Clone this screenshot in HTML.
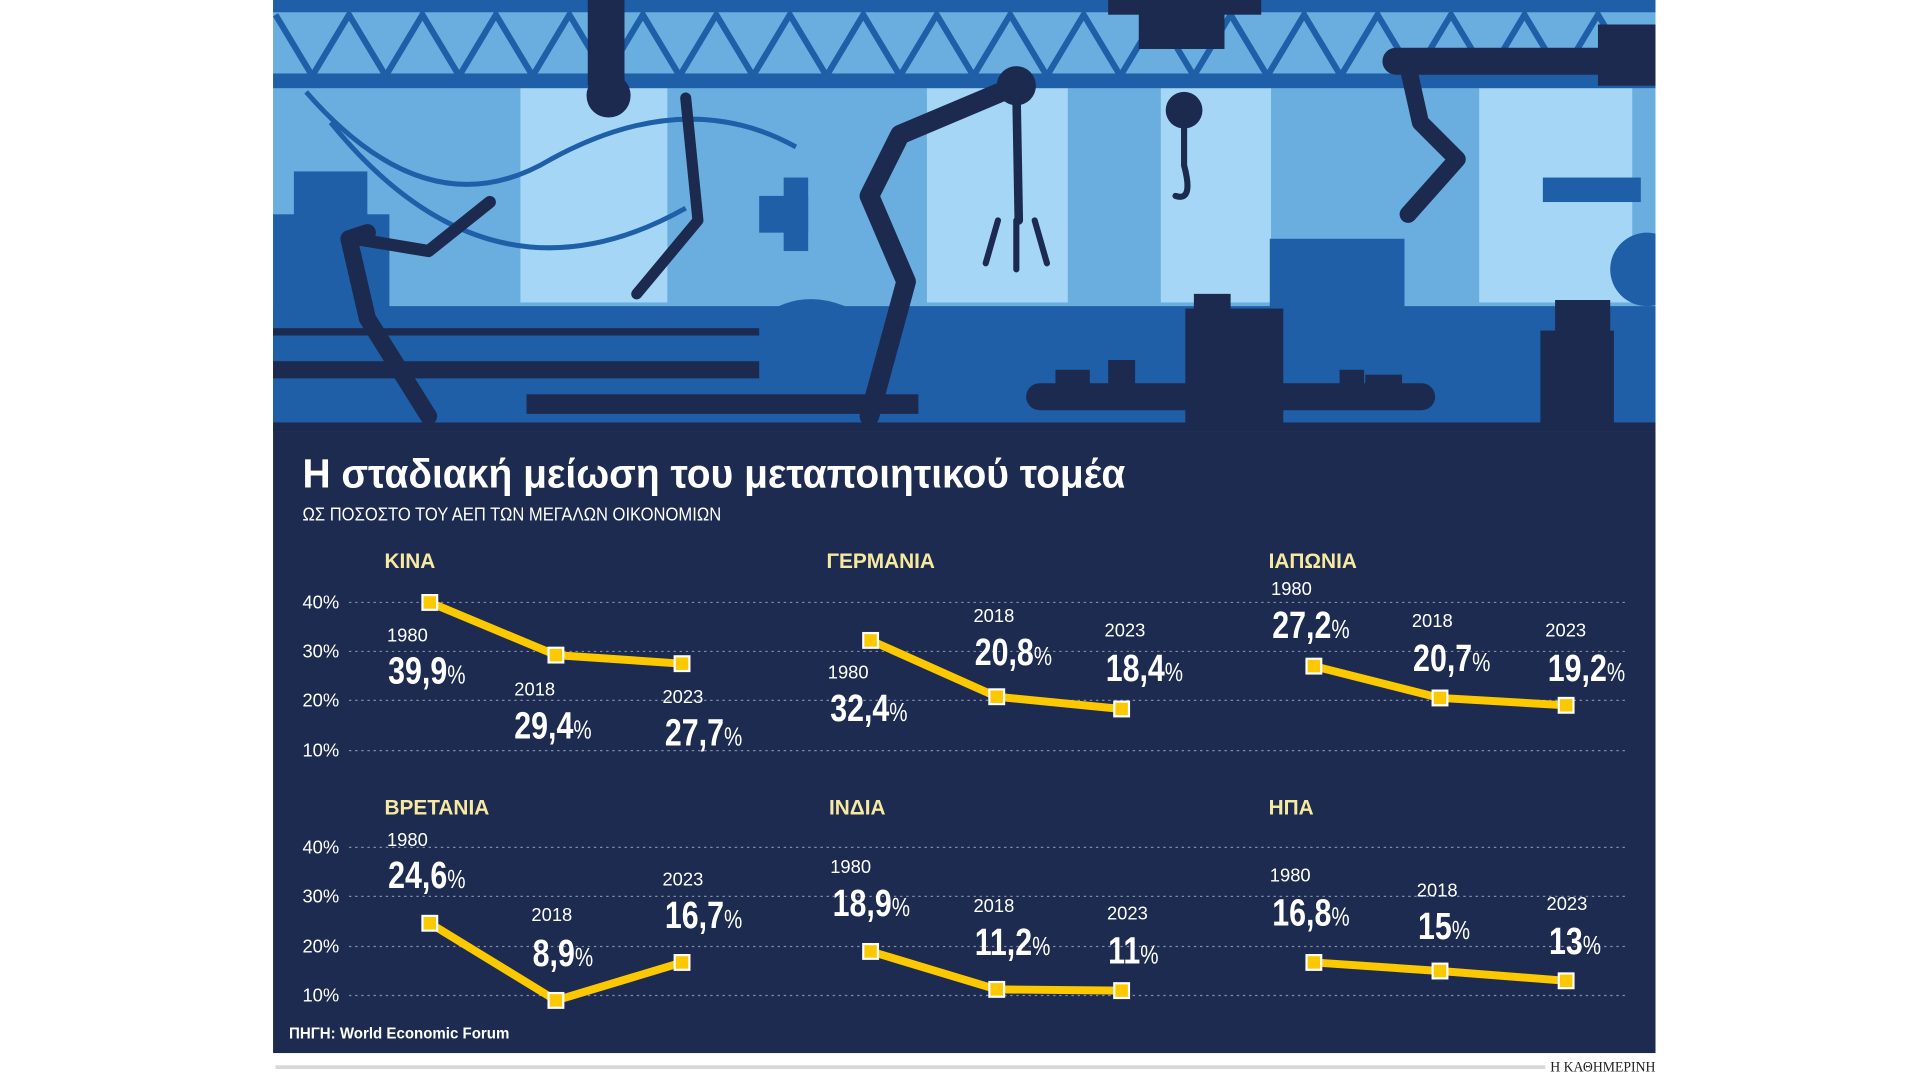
<!DOCTYPE html>
<html><head><meta charset="utf-8"><style>
html,body{margin:0;padding:0;background:#fff;width:1920px;height:1080px;overflow:hidden}
svg{display:block}
.t{font-family:"Liberation Sans Narrow","Liberation Sans",sans-serif}
</style></head><body>
<svg width="1920" height="1080" viewBox="0 0 1568 882" preserveAspectRatio="none" xmlns="http://www.w3.org/2000/svg">
<defs><clipPath id="ill"><rect x="223" y="0" width="1129" height="352"/></clipPath></defs>
<g clip-path="url(#ill)">
<rect x="223" y="0" width="1129" height="352" fill="#6aaee0"/>
<g fill="#a5d6f6">
<rect x="425" y="72" width="120" height="175"/><rect x="757" y="72" width="115" height="175"/>
<rect x="948" y="72" width="90" height="175"/><rect x="1208" y="72" width="125" height="175"/>
</g>
<g stroke="#1e5fa8" stroke-width="5" fill="none">
<path d="M225 12 L255 62 L285 12 L315 62 L345 12 L375 62 L405 12 L435 62 L465 12 L495 62 L525 12 L555 62 L585 12 L615 62 L645 12 L675 62 L705 12 L735 62 L765 12 L795 62 L825 12 L855 62 L885 12 L915 62 L945 12 L975 62 L1005 12 L1035 62 L1065 12 L1095 62 L1125 12 L1155 62 L1185 12 L1215 62 L1245 12 L1275 62 L1305 12 L1335 62 L1365 12"/>
<path d="M250 75 Q350 190 450 130 Q560 70 650 120" stroke-width="4"/>
<path d="M270 100 Q400 260 560 170" stroke-width="4"/>
</g>
<rect x="223" y="0" width="1129" height="10" fill="#1e5fa8"/>
<rect x="223" y="60" width="1129" height="12" fill="#1e5fa8"/>
<g fill="#1e5fa8">
<rect x="223" y="175" width="95" height="177"/><rect x="240" y="140" width="60" height="40"/>
<rect x="223" y="250" width="1129" height="102"/>
<path d="M600 352 L600 280 Q640 230 690 250 L700 352Z"/>
<rect x="620" y="160" width="40" height="30"/><rect x="640" y="145" width="20" height="60"/>
<rect x="1037" y="195" width="110" height="157"/><rect x="1260" y="145" width="80" height="20"/>
<circle cx="1345" cy="220" r="30"/>
</g>
<g fill="#1b2a4e">
<rect x="223" y="345" width="1129" height="7"/>
<rect x="223" y="295" width="397" height="14"/><rect x="223" y="268" width="397" height="6"/>
<rect x="430" y="322" width="320" height="16"/>
<rect x="838" y="313" width="334" height="22" rx="11"/>
<rect x="968" y="252" width="80" height="100"/><rect x="975" y="240" width="30" height="14"/>
<rect x="862" y="302" width="28" height="14"/><rect x="905" y="294" width="22" height="22"/>
<rect x="1094" y="302" width="20" height="14"/><rect x="1115" y="306" width="30" height="10"/>
<rect x="1258" y="270" width="60" height="82"/><rect x="1270" y="245" width="45" height="30"/>
<rect x="905" y="0" width="125" height="12"/><rect x="930" y="10" width="70" height="30"/>
<rect x="480" y="0" width="30" height="70"/>
<circle cx="497" cy="78" r="18"/><circle cx="830" cy="70" r="16"/>
<circle cx="967" cy="90" r="15"/>
<rect x="1305" y="20" width="47" height="50"/>
</g>
<g stroke="#1b2a4e" fill="none" stroke-linecap="round" stroke-linejoin="round">
<path d="M300 190 L285 195 L300 260 L350 340" stroke-width="14"/>
<path d="M290 195 L350 205 L400 165" stroke-width="10"/>
<path d="M560 80 L570 180 L520 240" stroke-width="9"/>
<path d="M710 340 L740 230 L710 160 L735 110 L830 70" stroke-width="16"/>
<path d="M830 70 L832 180" stroke-width="7"/>
<path d="M815 180 L805 215 M845 180 L855 215 M830 180 L830 220" stroke-width="5"/>
<path d="M1140 50 L1260 50 L1320 50" stroke-width="22"/>
<path d="M1150 55 L1160 100 L1190 130 L1150 175" stroke-width="14"/>
<path d="M967 105 L967 135 Q975 165 960 160" stroke-width="5"/>
</g>
</g>
<rect x="223" y="352" width="1129" height="508" fill="#1c2b4f"/>
<text class="t" x="247" y="398" fill="#fff" font-size="33" font-weight="bold" textLength="672" lengthAdjust="spacingAndGlyphs">Η σταδιακή μείωση του μεταποιητικού τομέα</text>
<text class="t" x="247" y="425" fill="#fff" font-size="15" textLength="342" lengthAdjust="spacingAndGlyphs">ΩΣ ΠΟΣΟΣΤΟ ΤΟΥ ΑΕΠ ΤΩΝ ΜΕΓΑΛΩΝ ΟΙΚΟΝΟΜΙΩΝ</text>
<g class="t" fill="#f7e9a0" font-size="17" font-weight="bold">
<text x="314" y="464">ΚΙΝΑ</text><text x="675" y="464">ΓΕΡΜΑΝΙΑ</text><text x="1036" y="464">ΙΑΠΩΝΙΑ</text>
<text x="314" y="665">ΒΡΕΤΑΝΙΑ</text><text x="677" y="665">ΙΝΔΙΑ</text><text x="1036" y="665">ΗΠΑ</text>
</g>
<g stroke="#7f8aa6" stroke-width="1" stroke-dasharray="2 3">
<path d="M285 492H1328M285 532H1328M285 572H1328M285 613H1328M285 692H1328M285 732H1328M285 773H1328M285 813H1328"/>
</g>
<g class="t" fill="#fff" font-size="15">
<text x="247" y="497">40%</text><text x="247" y="537">30%</text><text x="247" y="577">20%</text><text x="247" y="618">10%</text>
<text x="247" y="697">40%</text><text x="247" y="737">30%</text><text x="247" y="778">20%</text><text x="247" y="818">10%</text>
</g>
<g fill="none" stroke="#fcc800" stroke-width="6.5" stroke-linejoin="round">
<polyline points="351,492 454,535 557,542"/>
<polyline points="711,523 814,569 916,579"/>
<polyline points="1073,544 1176,570 1279,576"/>
<polyline points="351,754 454,817 557,786"/>
<polyline points="711,777 814,808 916,809"/>
<polyline points="1073,786 1176,793 1279,801"/>
</g>
<g fill="#fcc800" stroke="#fff" stroke-width="1.8">
<rect x="345" y="486" width="12" height="12"/><rect x="448" y="529" width="12" height="12"/><rect x="551" y="536" width="12" height="12"/>
<rect x="705" y="517" width="12" height="12"/><rect x="808" y="563" width="12" height="12"/><rect x="910" y="573" width="12" height="12"/>
<rect x="1067" y="538" width="12" height="12"/><rect x="1170" y="564" width="12" height="12"/><rect x="1273" y="570" width="12" height="12"/>
<rect x="345" y="748" width="12" height="12"/><rect x="448" y="811" width="12" height="12"/><rect x="551" y="780" width="12" height="12"/>
<rect x="705" y="771" width="12" height="12"/><rect x="808" y="802" width="12" height="12"/><rect x="910" y="803" width="12" height="12"/>
<rect x="1067" y="780" width="12" height="12"/><rect x="1170" y="787" width="12" height="12"/><rect x="1273" y="795" width="12" height="12"/>
</g>
<g class="t" fill="#fff" font-size="15">
<text x="316" y="524">1980</text><text x="420" y="568">2018</text><text x="541" y="574">2023</text>
<text x="676" y="554">1980</text><text x="795" y="508">2018</text><text x="902" y="520">2023</text>
<text x="1038" y="486">1980</text><text x="1153" y="512">2018</text><text x="1262" y="520">2023</text>
<text x="316" y="691">1980</text><text x="434" y="752">2018</text><text x="541" y="723">2023</text>
<text x="678" y="713">1980</text><text x="795" y="745">2018</text><text x="904" y="751">2023</text>
<text x="1037" y="720">1980</text><text x="1157" y="732">2018</text><text x="1263" y="743">2023</text>
</g>
<g class="t" fill="#fff" font-size="31" font-weight="bold">
<text transform="translate(317 558) scale(0.8 1)">39,9<tspan font-size="21" font-weight="normal">%</tspan></text>
<text transform="translate(420 603) scale(0.8 1)">29,4<tspan font-size="21" font-weight="normal">%</tspan></text>
<text transform="translate(543 609) scale(0.8 1)">27,7<tspan font-size="21" font-weight="normal">%</tspan></text>
<text transform="translate(678 589) scale(0.8 1)">32,4<tspan font-size="21" font-weight="normal">%</tspan></text>
<text transform="translate(796 543) scale(0.8 1)">20,8<tspan font-size="21" font-weight="normal">%</tspan></text>
<text transform="translate(903 556) scale(0.8 1)">18,4<tspan font-size="21" font-weight="normal">%</tspan></text>
<text transform="translate(1039 521) scale(0.8 1)">27,2<tspan font-size="21" font-weight="normal">%</tspan></text>
<text transform="translate(1154 548) scale(0.8 1)">20,7<tspan font-size="21" font-weight="normal">%</tspan></text>
<text transform="translate(1264 556) scale(0.8 1)">19,2<tspan font-size="21" font-weight="normal">%</tspan></text>
<text transform="translate(317 725) scale(0.8 1)">24,6<tspan font-size="21" font-weight="normal">%</tspan></text>
<text transform="translate(435 789) scale(0.8 1)">8,9<tspan font-size="21" font-weight="normal">%</tspan></text>
<text transform="translate(543 758) scale(0.8 1)">16,7<tspan font-size="21" font-weight="normal">%</tspan></text>
<text transform="translate(680 748) scale(0.8 1)">18,9<tspan font-size="21" font-weight="normal">%</tspan></text>
<text transform="translate(796 780) scale(0.8 1)">11,2<tspan font-size="21" font-weight="normal">%</tspan></text>
<text transform="translate(905 787) scale(0.8 1)">11<tspan font-size="21" font-weight="normal">%</tspan></text>
<text transform="translate(1039 756) scale(0.8 1)">16,8<tspan font-size="21" font-weight="normal">%</tspan></text>
<text transform="translate(1158 767) scale(0.8 1)">15<tspan font-size="21" font-weight="normal">%</tspan></text>
<text transform="translate(1265 779) scale(0.8 1)">13<tspan font-size="21" font-weight="normal">%</tspan></text>
</g>
<text class="t" x="236" y="848" fill="#fff" font-size="13" font-weight="bold" textLength="180" lengthAdjust="spacingAndGlyphs">ΠΗΓΗ: World Economic Forum</text>
<rect x="225" y="870" width="1037" height="3" fill="#d8d8d8"/>
<text x="1266" y="875" fill="#222" font-size="12" font-family="Liberation Serif,serif" textLength="86" lengthAdjust="spacingAndGlyphs">Η ΚΑΘΗΜΕΡΙΝΗ</text>
</svg>
</body></html>
